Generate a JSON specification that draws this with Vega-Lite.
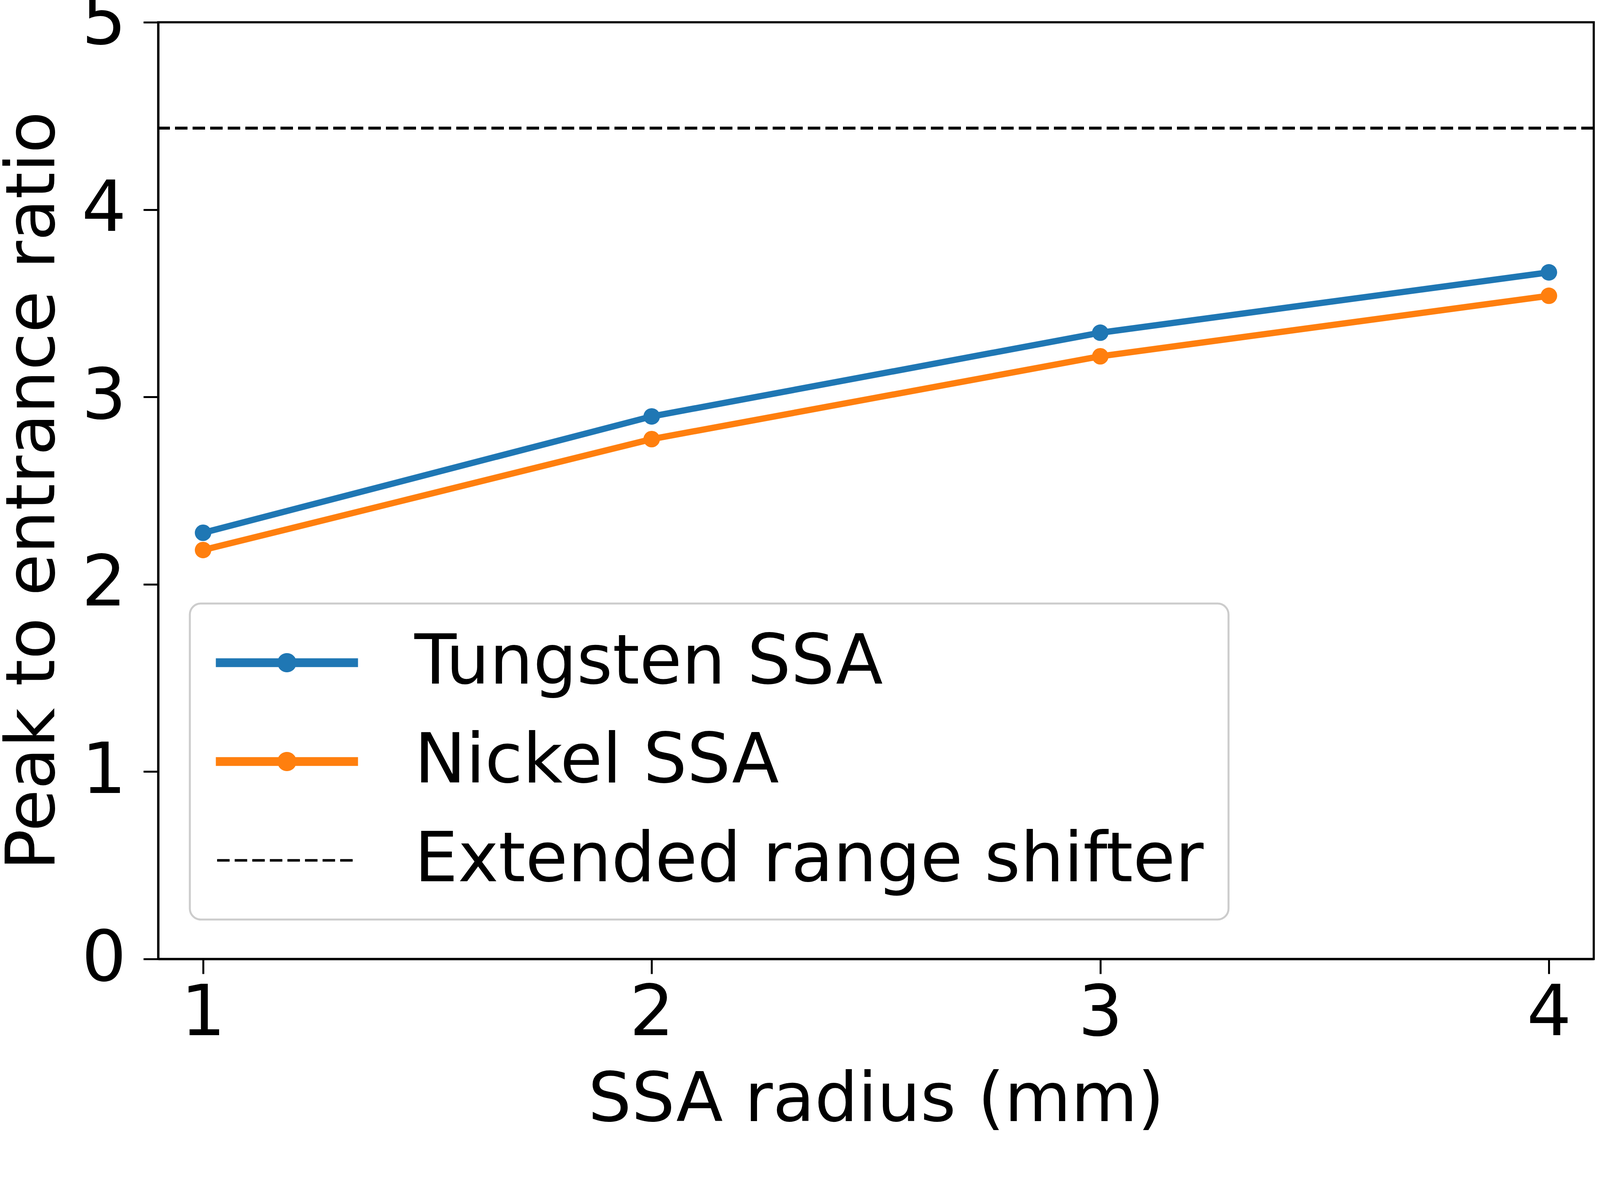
{
  "$schema": "https://vega.github.io/schema/vega-lite/v6.json",
  "autosize": "none",
  "width": 3675,
  "height": 2398,
  "padding": {"left": 405, "top": 57, "right": 16, "bottom": 450},
  "background": "white",
  "config": {
    "font": "DejaVu Sans",
    "view": {"stroke": "black", "strokeWidth": 5.5},
    "axis": {
      "labelFont": "DejaVu Sans",
      "titleFont": "DejaVu Sans",
      "labelFontSize": 180,
      "titleFontSize": 175,
      "titleFontWeight": "normal",
      "labelColor": "black",
      "titleColor": "black",
      "tickColor": "black",
      "domainColor": "black",
      "tickSize": 38,
      "tickWidth": 5,
      "domainWidth": 5.5,
      "grid": false
    },
    "legend": {
      "labelFont": "DejaVu Sans",
      "labelFontSize": 176,
      "labelColor": "black",
      "labelLimit": 0
    }
  },
  "data": {
    "values": [
      {"series": "Tungsten SSA", "radius": 1, "ratio": 2.275},
      {"series": "Tungsten SSA", "radius": 2, "ratio": 2.896},
      {"series": "Tungsten SSA", "radius": 3, "ratio": 3.343},
      {"series": "Tungsten SSA", "radius": 4, "ratio": 3.665},
      {"series": "Nickel SSA", "radius": 1, "ratio": 2.183},
      {"series": "Nickel SSA", "radius": 2, "ratio": 2.775},
      {"series": "Nickel SSA", "radius": 3, "ratio": 3.217},
      {"series": "Nickel SSA", "radius": 4, "ratio": 3.54},
      {"series": "Extended range shifter", "radius": null, "ratio": 4.435}
    ]
  },
  "encoding": {
    "y": {
      "field": "ratio",
      "type": "quantitative",
      "scale": {"domain": [0, 5], "nice": false, "zero": false},
      "axis": {"values": [0, 1, 2, 3, 4, 5], "title": "Peak to entrance ratio", "labelPadding": 44, "titlePadding": 33}
    },
    "color": {
      "field": "series",
      "type": "nominal",
      "scale": {
        "domain": ["Tungsten SSA", "Nickel SSA", "Extended range shifter"],
        "range": ["#1f77b4", "#ff7f0e", "black"]
      },
      "legend": {
        "title": null,
        "orient": "none",
        "legendX": 81,
        "legendY": 1488,
        "padding": 63,
        "rowPadding": 76,
        "symbolSize": 28975,
        "symbolStrokeWidth": 0,
        "labelOffset": 335,
        "labelLimit": 0,
        "strokeColor": "#cccccc",
        "fillColor": "white",
        "cornerRadius": 28,
        "encode": {
          "legend": {"update": {"strokeWidth": {"value": 5}}},
          "symbols": {
            "update": {
              "shape": {"signal": "datum.value === 'Extended range shifter' ? 'M-0.96,0H3.24' : 'M-0.96,-0.095H3.24V0.095H-0.96Z M0.89,0A0.25,0.25 0 1 1 1.39,0A0.25,0.25 0 1 1 0.89,0Z'"},
              "fill": {"signal": "datum.value === 'Tungsten SSA' ? '#1f77b4' : datum.value === 'Nickel SSA' ? '#ff7f0e' : 'transparent'"},
              "stroke": {"signal": "datum.value === 'Extended range shifter' ? 'black' : 'transparent'"},
              "strokeWidth": {"value": 6.5},
              "strokeDash": {"signal": "datum.value === 'Extended range shifter' ? [32, 13] : [1, 0]"},
              "opacity": {"value": 1}
            }
          }
        }
      }
    }
  },
  "layer": [
    {
      "transform": [{"filter": "datum.series !== 'Extended range shifter'"}],
      "mark": {"type": "line", "strokeWidth": 16, "point": {"filled": true, "size": 1790, "opacity": 1}},
      "encoding": {
        "x": {
          "field": "radius",
          "type": "quantitative",
          "scale": {"domain": [0.9, 4.1], "nice": false, "zero": false},
          "axis": {"values": [1, 2, 3, 4], "title": "SSA radius (mm)", "labelPadding": 14, "titlePadding": 76}
        }
      }
    },
    {
      "transform": [{"filter": "datum.series === 'Extended range shifter'"}],
      "mark": {"type": "rule", "strokeWidth": 7.5, "strokeDash": [32, 13]},
      "encoding": {}
    }
  ]
}
